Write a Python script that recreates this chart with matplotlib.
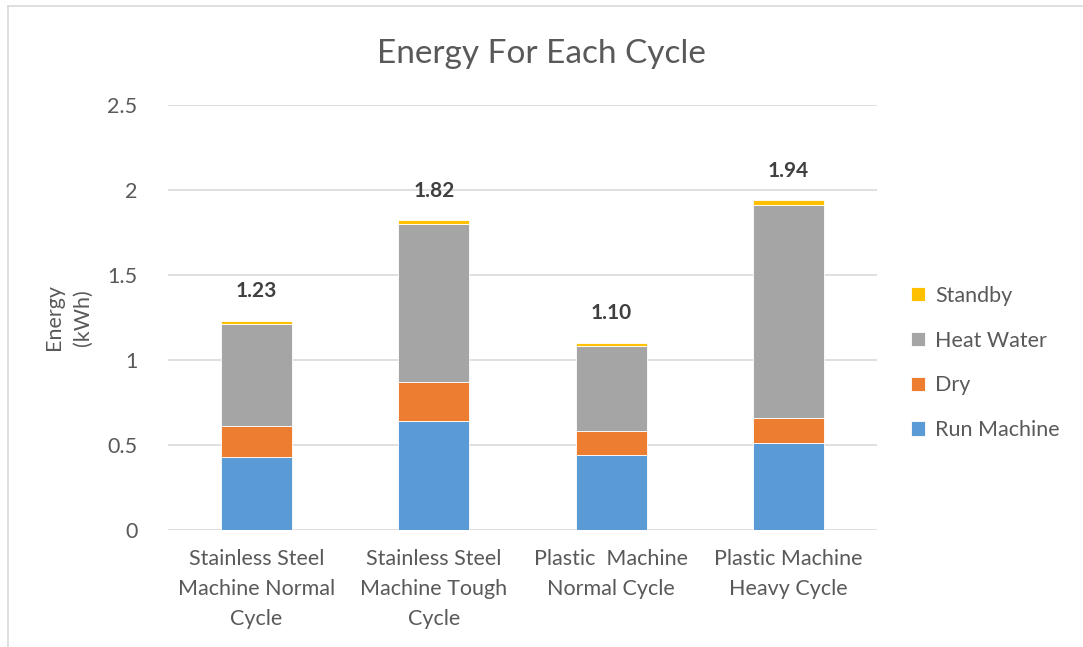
import matplotlib.pyplot as plt
import numpy as np

# chart data
categories = ["Stainless Steel\nMachine Normal\nCycle", "Stainless Steel\nMachine Tough\nCycle",
              "Plastic  Machine\nNormal Cycle", "Plastic Machine\nHeavy Cycle"]
run_machine = [0.43, 0.64, 0.44, 0.51]
dry = [0.18, 0.23, 0.14, 0.15]
heat_water = [0.60, 0.93, 0.50, 1.25]
standby = [0.02, 0.02, 0.02, 0.03]
totals = [1.23, 1.82, 1.10, 1.94]

series = [("Run Machine", run_machine, "#5b9bd5"),
          ("Dry", dry, "#ed7d31"),
          ("Heat Water", heat_water, "#a5a5a5"),
          ("Standby", standby, "#ffc000")]

plt.rcParams['font.family'] = ['Lato', 'DejaVu Sans']
txt = "#595959"
fs = 15.5

fig = plt.figure(figsize=(10.83, 6.47), dpi=100)
ax = fig.add_axes([0.155, 0.181, 0.655, 0.657])

x = np.arange(len(categories))
bottom = np.zeros(len(categories))
handles = []
for name, vals, col in series:
    b = ax.bar(x, vals, 0.4, bottom=bottom, color=col, label=name,
               edgecolor="white", linewidth=0.6, zorder=3)
    handles.append(b)
    bottom += np.array(vals)

for xi, top, t in zip(x, bottom, totals):
    ax.annotate(f"{t:.2f}", (xi, top), xytext=(0, 14), textcoords="offset points",
                ha="center", va="bottom", fontsize=15, fontweight="bold", color="#404040")

ax.set_xlim(-0.5, 3.5)
ax.set_ylim(0, 2.5)
ax.set_yticks([0, 0.5, 1, 1.5, 2, 2.5])
ax.set_yticklabels(["0", "0.5", "1", "1.5", "2", "2.5"])
ax.set_xticks(x)
ax.set_xticklabels(categories, fontsize=fs, color=txt, linespacing=1.62)
ax.tick_params(axis="y", labelsize=fs, labelcolor=txt, length=0, pad=22)
ax.tick_params(axis="x", length=0, pad=14)
ax.grid(axis="y", color="#d9d9d9", linewidth=1.2, zorder=0)
for s in ax.spines.values():
    s.set_visible(False)

ax.set_ylabel("Energy\n(kWh)", fontsize=fs, color=txt, labelpad=10, linespacing=1.6)
fig.suptitle("Energy For Each Cycle", y=0.94, fontsize=24, color=txt)

leg = fig.legend(handles[::-1], [s[0] for s in series][::-1], loc="center left",
                 bbox_to_anchor=(0.823, 0.439), frameon=False, fontsize=fs,
                 handlelength=0.65, handleheight=0.65, handletextpad=0.5, labelspacing=1.15)
for t in leg.get_texts():
    t.set_color(txt)

# outer chart border (top and left edges visible)
fig.add_artist(plt.Line2D([0.007, 0.007], [0, 0.99], transform=fig.transFigure, color="#d9d9d9", lw=1.2))
fig.add_artist(plt.Line2D([0.007, 1], [0.99, 0.99], transform=fig.transFigure, color="#d9d9d9", lw=1.2))

fig.savefig("out.png", dpi=100)
